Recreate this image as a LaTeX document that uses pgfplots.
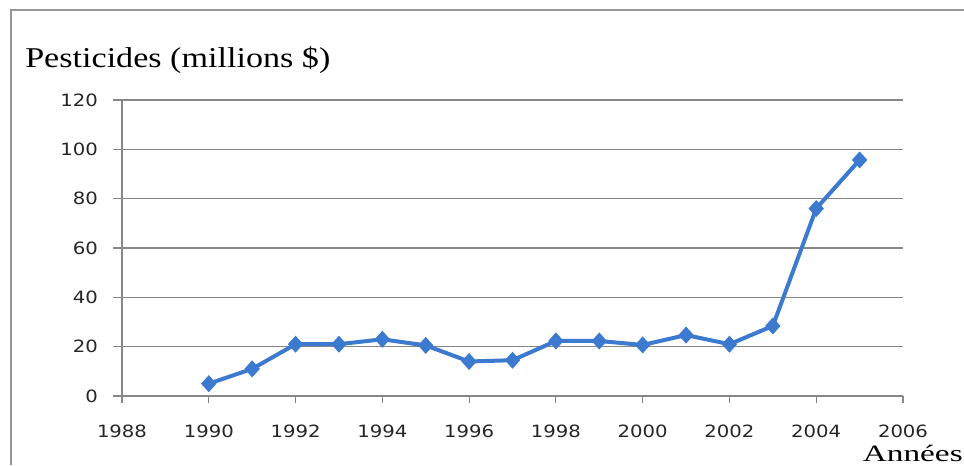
\documentclass[border=0pt]{standalone}
\usepackage{fontspec}
\setmainfont{Liberation Serif}
\newfontfamily\tickfont[FakeStretch=1.16]{DejaVu Sans}
\newfontfamily\titlefont[FakeStretch=1.19]{Liberation Serif}
\newfontfamily\xlabelfont[FakeStretch=1.42]{Liberation Serif}
\usepackage{pgfplots}
\pgfplotsset{compat=1.18}
\definecolor{serieblue}{RGB}{60,122,208}
\definecolor{gridgray}{RGB}{135,135,135}
\definecolor{framegray}{RGB}{150,150,150}
\begin{document}
\begin{tikzpicture}[x=0.75pt,y=0.75pt]
\useasboundingbox (0,0) rectangle (964,465);
% outer frame (top and left edges)
\draw[framegray, line width=1.3pt] (11,0) -- (11,455) -- (964,455);
\begin{axis}[
  at={(91.5pt,51.75pt)}, anchor=south west,
  scale only axis, width=585.75pt, height=222pt,
  xmin=1988, xmax=2006, ymin=0, ymax=120,
  xtick={1988,1990,...,2006}, ytick={0,20,...,120},
  axis x line=bottom, axis y line=left,
  axis line style={-, gridgray, line width=0.9pt},
  tick align=outside,
  xtick style={gridgray, line width=0.9pt, /pgfplots/major tick length=5.25pt},
  ytick style={gridgray, line width=0.9pt, /pgfplots/major tick length=6.75pt},
  ymajorgrids, grid style={gridgray, line width=0.9pt},
  ticklabel style={font=\tickfont\fontsize{12.7}{14}\selectfont, text=black!85},
  xticklabel style={yshift=-14pt},
  yticklabel style={xshift=-10.25pt},
  /pgf/number format/assume math mode=true,
  /pgf/number format/1000 sep={},
  clip=false,
]
\addplot[serieblue, line width=3pt, mark=diamond*, mark size=5.8pt,
  mark options={fill=serieblue, draw=serieblue, line width=0.8pt, xscale=1.2}]
  coordinates {
  (1990,5) (1991,11) (1992,21) (1993,21) (1994,23) (1995,20.5)
  (1996,14) (1997,14.5) (1998,22.3) (1999,22.3) (2000,20.7)
  (2001,24.7) (2002,21) (2003,28.4) (2004,76) (2005,95.7)
  };
\end{axis}
\node[anchor=base west, inner sep=0pt, font=\titlefont\fontsize{21.5}{24}\selectfont] at (25,397) {Pesticides (millions \$)};
\node[anchor=base east, inner sep=0pt, font=\xlabelfont\fontsize{17.6}{20}\selectfont] at (963,4) {Années};
\end{tikzpicture}
\end{document}
